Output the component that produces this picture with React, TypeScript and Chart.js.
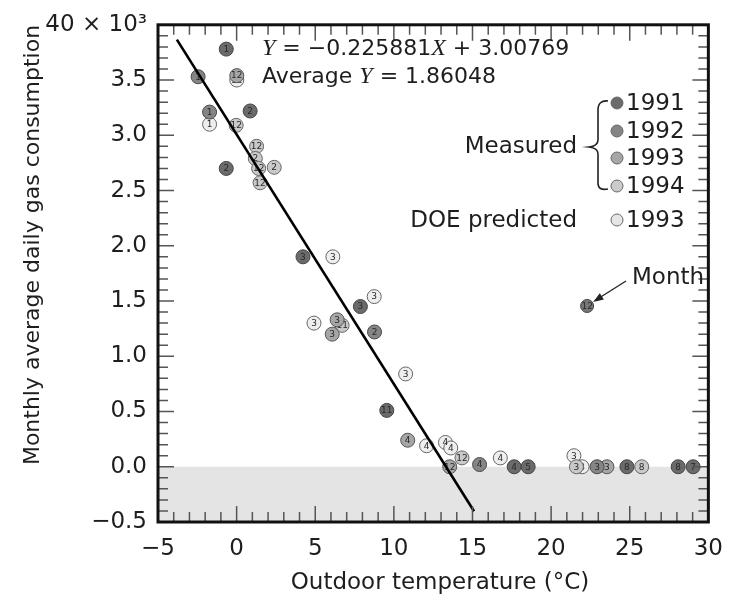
import React, { useEffect, useRef } from "react";
import { Chart, registerables } from "chart.js";
Chart.register(...registerables);

const SANS = "'DejaVu Sans', sans-serif";
const SERIF_I = "'Liberation Serif', serif";

const xMin = -5;
const xMax = 30;
const yMin = -0.5;
const yMax = 4.0;

// Measured 1991
const x1991 = [-0.66, 0.86, -0.66, 4.22, 7.87, 9.55, 17.65, 18.54, 24.82, 28.08, 29.03];
const y1991 = [3.78, 3.22, 2.7, 1.9, 1.45, 0.51, 0.0, 0.0, 0.0, 0.0, 0.0];
const m1991 = ["1", "2", "2", "3", "3", "11", "4", "5", "8", "8", "7"];
// Measured 1992
const x1992 = [-2.45, -1.72, 8.77, 15.45, 22.92];
const y1992 = [3.53, 3.21, 1.22, 0.02, 0.0];
const m1992 = ["1", "1", "2", "4", "3"];
// Measured 1993
const x1993 = [0.01, 6.39, 6.08, 10.88, 23.55, 13.55];
const y1993 = [3.54, 1.33, 1.2, 0.24, 0.0, 0.0];
const m1993 = ["12", "3", "3", "4", "3", "12"];
// Measured 1994
const x1994 = [-0.03, 1.27, 1.19, 1.4, 2.39, 1.49, 6.71, 14.33, 21.61, 25.76];
const y1994 = [3.09, 2.9, 2.79, 2.7, 2.71, 2.57, 1.28, 0.08, 0.0, 0.0];
const m1994 = ["12", "12", "2", "12", "2", "12", "11", "12", "3", "8"];
// DOE predicted 1993
const xDOE = [0.01, -1.72, 6.12, 8.75, 4.92, 10.75, 12.08, 13.28, 13.62, 16.77, 21.45, 21.97];
const yDOE = [3.5, 3.1, 1.9, 1.54, 1.3, 0.84, 0.19, 0.22, 0.17, 0.08, 0.1, 0.0];
const mDOE = ["12", "1", "3", "3", "3", "3", "4", "4", "4", "4", "3", "3"];
// "Month" example marker
const xMonth = [22.29];
const yMonth = [1.455];
const mMonth = ["12"];

// Regression line Y = -0.225881X + 3.00769 (end points)
const lineX = [-3.8, 15.1];
const lineY = [3.866, -0.403];

const legendYears = ["1991", "1992", "1993", "1994", "1993"];
const legendColors = ["#6b6b6b", "#858585", "#a6a6a6", "#cbcbcb", "#e6e6e6"];

const monthLabels = [m1991, m1992, m1993, m1994, mDOE, mMonth];

function pts(xs: number[], ys: number[]) {
  return xs.map((v, i) => ({ x: v, y: ys[i] }));
}

function fmtNum(v: number, digits: number) {
  const s = Math.abs(v).toFixed(digits);
  return v < -1e-9 ? "\u2212" + s : s;
}

const decoPlugin = {
  id: "deco",
  beforeDatasetsDraw(chart: any) {
    const { ctx, chartArea: a, scales } = chart;
    const y0 = scales.y.getPixelForValue(0);
    ctx.save();
    ctx.fillStyle = "#e4e4e4";
    ctx.fillRect(a.left, y0, a.right - a.left, a.bottom - y0);
    ctx.restore();
  },
  afterDatasetDraw(chart: any, args: any) {
    const labels = monthLabels[args.index];
    if (!labels) return;
    const { ctx } = chart;
    ctx.save();
    ctx.font = "9px " + SANS;
    ctx.textAlign = "center";
    ctx.textBaseline = "middle";
    ctx.fillStyle = "#2a2a2a";
    args.meta.data.forEach((el: any, j: number) => {
      ctx.fillText(labels[j], el.x, el.y + 0.5);
    });
    ctx.restore();
  },
  afterDraw(chart: any) {
    const { ctx, chartArea: a, scales } = chart;
    const xs = scales.x;
    const ys = scales.y;
    ctx.save();
    // inward ticks
    ctx.strokeStyle = "#555";
    ctx.lineWidth = 1.5;
    for (let v = xMin; v <= xMax; v++) {
      const px = xs.getPixelForValue(v);
      const len = v % 5 === 0 ? 16 : 10;
      ctx.beginPath();
      ctx.moveTo(px, a.bottom);
      ctx.lineTo(px, a.bottom - len);
      ctx.moveTo(px, a.top);
      ctx.lineTo(px, a.top + len);
      ctx.stroke();
    }
    for (let k = -5; k <= 40; k++) {
      const py = ys.getPixelForValue(k / 10);
      const len = k % 5 === 0 ? 16 : 10;
      ctx.beginPath();
      ctx.moveTo(a.left, py);
      ctx.lineTo(a.left + len, py);
      ctx.moveTo(a.right, py);
      ctx.lineTo(a.right - len, py);
      ctx.stroke();
    }
    // frame
    ctx.strokeStyle = "#111";
    ctx.lineWidth = 3;
    ctx.strokeRect(a.left, a.top, a.right - a.left, a.bottom - a.top);

    ctx.fillStyle = "#1e1e1e";
    ctx.textBaseline = "middle";
    // axis titles
    ctx.font = "23px " + SANS;
    ctx.textAlign = "center";
    ctx.fillText("Outdoor temperature (\u00B0C)", 440, 583);
    ctx.font = "22px " + SANS;
    ctx.save();
    ctx.translate(33, 245);
    ctx.rotate(-Math.PI / 2);
    ctx.fillText("Monthly average daily gas consumption", 0, 0);
    ctx.restore();

    // equation
    const rich = (parts: [string, string][], x: number, y: number) => {
      let cx = x;
      ctx.textAlign = "left";
      for (const [t, f] of parts) {
        ctx.font = f;
        ctx.fillText(t, cx, y);
        cx += ctx.measureText(t).width;
      }
    };
    const fs = "22px " + SANS;
    const fi = "italic 24px " + SERIF_I;
    rich([["Y", fi], [" = \u22120.225881", fs], ["X", fi], [" + 3.00769", fs]], 262, 49);
    rich([["Average ", fs], ["Y", fi], [" = 1.86048", fs]], 262, 77);

    // legend
    const ly = [103, 131, 158, 186, 220];
    ctx.font = "23px " + SANS;
    legendYears.forEach((t, i) => {
      ctx.beginPath();
      ctx.arc(617, ly[i], 6, 0, Math.PI * 2);
      ctx.fillStyle = legendColors[i];
      ctx.fill();
      ctx.strokeStyle = "#666";
      ctx.lineWidth = 1;
      ctx.stroke();
      ctx.fillStyle = "#1e1e1e";
      ctx.textAlign = "left";
      ctx.fillText(t, 626, ly[i] + 1);
    });
    ctx.textAlign = "right";
    ctx.fillText("Measured", 577, 147);
    ctx.fillText("DOE predicted", 577, 221);

    // brace
    ctx.strokeStyle = "#222";
    ctx.lineWidth = 1.6;
    ctx.beginPath();
    ctx.moveTo(608, 101);
    ctx.quadraticCurveTo(598, 100, 598, 110);
    ctx.lineTo(598, 140);
    ctx.quadraticCurveTo(598, 146, 589, 147);
    ctx.quadraticCurveTo(598, 148, 598, 154);
    ctx.lineTo(598, 183);
    ctx.quadraticCurveTo(598, 191, 608, 189);
    ctx.stroke();

    // Month annotation
    ctx.textAlign = "left";
    ctx.fillStyle = "#1e1e1e";
    ctx.fillText("Month", 632, 278);
    const mx = xs.getPixelForValue(xMonth[0]);
    const my = ys.getPixelForValue(yMonth[0]);
    const tx = mx + 6;
    const ty = my - 4;
    ctx.strokeStyle = "#222";
    ctx.lineWidth = 1.3;
    ctx.beginPath();
    ctx.moveTo(626, 281);
    ctx.lineTo(tx + 6, ty - 4);
    ctx.stroke();
    const ang = Math.atan2(ty - 281, tx - 626);
    ctx.beginPath();
    ctx.moveTo(tx, ty);
    ctx.lineTo(tx - 11 * Math.cos(ang - 0.35), ty - 11 * Math.sin(ang - 0.35));
    ctx.lineTo(tx - 11 * Math.cos(ang + 0.35), ty - 11 * Math.sin(ang + 0.35));
    ctx.closePath();
    ctx.fillStyle = "#222";
    ctx.fill();
    ctx.restore();
  },
};

function scatterSet(xs: number[], ys: number[], fill: string, border: string, radius = 7) {
  return {
    type: "scatter" as const,
    data: pts(xs, ys),
    pointRadius: radius,
    pointHoverRadius: radius,
    pointBackgroundColor: fill,
    pointBorderColor: border,
    pointBorderWidth: 1,
    showLine: false,
    order: 1,
  };
}

export default function App() {
  const ref = useRef<HTMLCanvasElement | null>(null);
  useEffect(() => {
    if (!ref.current) return;
    const chart = new Chart(ref.current, {
      type: "scatter",
      data: {
        datasets: [
          scatterSet(x1991, y1991, "#6b6b6b", "#444"),
          scatterSet(x1992, y1992, "#858585", "#4a4a4a"),
          scatterSet(x1993, y1993, "#a6a6a6", "#555"),
          scatterSet(x1994, y1994, "#c9c9c9", "#666"),
          scatterSet(xDOE, yDOE, "#eeeeee", "#666"),
          scatterSet(xMonth, yMonth, "#777777", "#444", 6.5),
          {
            type: "scatter" as const,
            data: pts(lineX, lineY),
            showLine: true,
            borderColor: "#000",
            borderWidth: 2.6,
            pointRadius: 0,
            order: 0,
          } as any,
        ],
      },
      options: {
        animation: false,
        responsive: false,
        maintainAspectRatio: false,
        layout: { padding: { top: 18, right: 24, left: 0, bottom: 0 } },
        plugins: { legend: { display: false }, tooltip: { enabled: false } },
        scales: {
          x: {
            type: "linear",
            min: xMin,
            max: xMax,
            afterFit: (s: any) => {
              s.height = 80;
            },
            grid: { display: false, drawTicks: false },
            border: { display: false },
            ticks: {
              stepSize: 5,
              padding: 13,
              autoSkip: false,
              maxRotation: 0,
              color: "#1e1e1e",
              font: { family: SANS, size: 23 },
              callback: (v: any) => fmtNum(Number(v), 0),
            },
          },
          y: {
            type: "linear",
            min: yMin,
            max: yMax,
            afterFit: (s: any) => {
              s.width = 158;
            },
            grid: { display: false, drawTicks: false },
            border: { display: false },
            ticks: {
              stepSize: 0.5,
              padding: 11,
              autoSkip: false,
              color: "#1e1e1e",
              font: { family: SANS, size: 23 },
              callback: (v: any) =>
                Math.abs(Number(v) - 4) < 1e-6 ? "40 \u00D7 10\u00B3" : fmtNum(Number(v), 1),
            },
          },
        },
      } as any,
      plugins: [decoPlugin],
    });
    return () => chart.destroy();
  }, []);
  return (
    <div style={{ position: "absolute", left: 0, top: 0, width: 736, height: 602, background: "#fff" }}>
      <canvas ref={ref} width={736} height={602} style={{ width: 736, height: 602, display: "block" }} />
    </div>
  );
}
